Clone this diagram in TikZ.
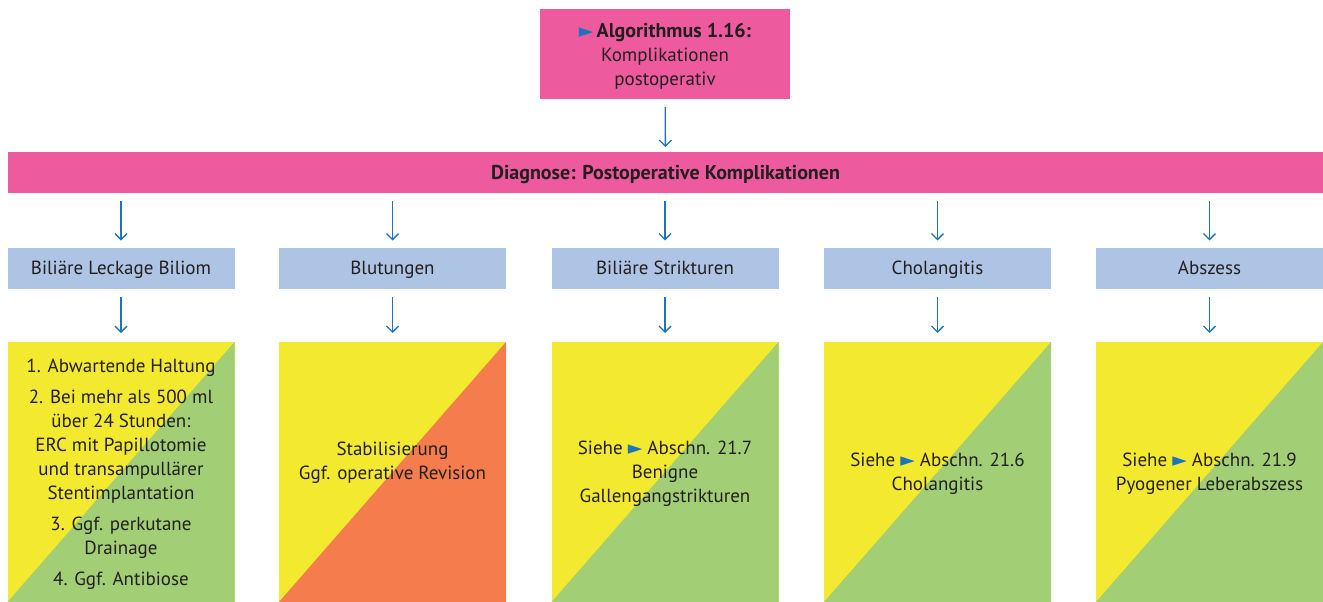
\documentclass[tikz,border=0pt]{standalone}
\usepackage{fontspec}
\setmainfont{PT Sans}
\newfontfamily\symfont{DejaVu Sans}
\usetikzlibrary{arrows.meta}

\definecolor{cPink}{HTML}{EE5A9E}
\definecolor{cCat}{HTML}{AEC4E4}
\definecolor{cYellow}{HTML}{F3E92F}
\definecolor{cGreen}{HTML}{A2CF76}
\definecolor{cOrange}{HTML}{F47C4D}
\definecolor{cArrow}{HTML}{1C75BC}
\definecolor{cInk}{HTML}{231F20}

% blue pointer used for cross references
\newcommand{\xref}{{\symfont\color{cArrow}\char"25BA}}
% slightly larger bold for headings
\newcommand{\hb}[1]{{\fontsize{20}{24}\selectfont\textbf{#1}}}

\begin{document}
\begin{tikzpicture}[x=1pt,y=-1pt,
  every node/.style={inner sep=0pt,outer sep=0pt,text=cInk,align=center,
    text depth=0pt,font=\fontsize{19}{24}\selectfont},
  headbox/.style={fill=cPink,minimum width=250,minimum height=90},
  diagbar/.style={fill=cPink,minimum width=1315,minimum height=41},
  catbox/.style={fill=cCat,minimum width=227,minimum height=41},
  outcome/.style={fill=cYellow,minimum width=227,minimum height=260,
    path picture={\fill[#1] (path picture bounding box.south west)
      -- (path picture bounding box.south east)
      -- (path picture bounding box.north east) -- cycle;}},
  conn/.style={draw=cArrow,line width=1.3pt,
    -{Straight Barb[length=6pt,width=12pt,line width=1.3pt]}}]

\useasboundingbox (0,0) rectangle (1323,602);

% header and diagnosis bar
\node[headbox] (head) at (665,54)
  {\xref\,\hb{Algorithmus 1.16:}\\Komplikationen\\postoperativ};
\node[diagbar] (diag) at (665.5,172.5)
  {\hb{Diagnose: Postoperative Komplikationen}};

% complication categories
\node[catbox] (c1) at (121,268) {Biliäre Leckage Biliom};
\node[catbox] (c2) at (392.5,268) {Blutungen};
\node[catbox] (c3) at (665,268) {Biliäre Strikturen};
\node[catbox] (c4) at (937.5,268) {Cholangitis};
\node[catbox] (c5) at (1209.5,268) {Abszess};

% management boxes
\node[outcome=cGreen] (o1) at (121,472)
  {1. Abwartende Haltung\\[7pt]
   2. Bei mehr als 500 ml\\über 24 Stunden:\\ERC mit Papillotomie\\
   und transampullärer\\Stentimplantation\\[7pt]
   3. Ggf. perkutane\\Drainage\\[7pt]
   4. Ggf. Antibiose};
\node[outcome=cOrange] (o2) at (392.5,472) {};
\node (o2text) at (392.5,461) {Stabilisierung\\Ggf. operative Revision};
\node[outcome=cGreen] (o3) at (665,472)
  {Siehe \xref\ Abschn. 21.7\\Benigne\\Gallengangstrikturen};
\node[outcome=cGreen] (o4) at (937.5,472)
  {Siehe \xref\ Abschn. 21.6\\Cholangitis};
\node[outcome=cGreen] (o5) at (1209.5,472)
  {Siehe \xref\ Abschn. 21.9\\Pyogener Leberabszess};

% connectors
\draw[conn,shorten <=8pt,shorten >=5pt] (head) -- (diag);
\foreach \i in {1,...,5}{
  \draw[conn,shorten <=8pt,shorten >=7pt] (diag.south -| c\i) -- (c\i);
  \draw[conn,shorten <=8pt,shorten >=9pt] (c\i) -- (o\i);
}
\end{tikzpicture}
\end{document}
